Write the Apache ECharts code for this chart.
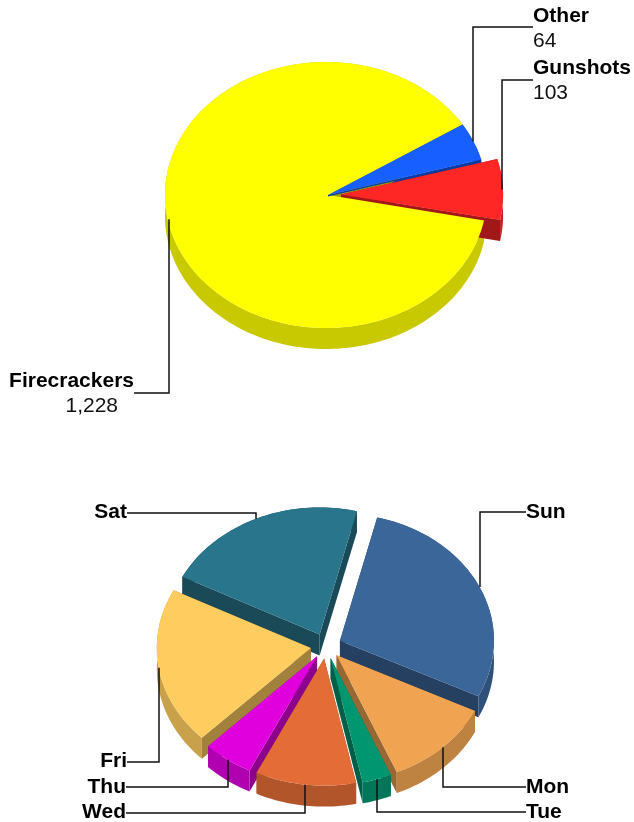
<!DOCTYPE html>
<html>
<head>
<meta charset="utf-8">
<style>html,body{margin:0;padding:0;background:#fff}#chart{width:634px;height:822px}</style>
<script src="https://cdn.jsdelivr.net/npm/echarts@6/dist/echarts.min.js"></script>
</head>
<body>
<div id="chart"></div>
<script>
// ---- data ----
const causeCategories = ['Other', 'Gunshots', 'Firecrackers'];
const causeValues = [64, 103, 1228];
const dayCategories = ['Sun', 'Mon', 'Tue', 'Wed', 'Thu', 'Fri', 'Sat'];
const dayValues = [102, 41, 11, 38, 19, 72, 77];

// ---- styles and layout ----
const causeColors = ['#1760FF', '#FF2626', '#FFFF00'];
const dayColors = ['#3B6699', '#F0A452', '#009670', '#E36C37', '#E000DE', '#FFCC5F', '#29758C'];
const causeExplode = [0, 0.1, 0];
const dayExplode = [0.1, 0.1, 0.1, 0.1, 0.1, 0.1, 0.1];
const FONT = '"Liberation Sans", Arial, sans-serif';

const causeLayout = {
  cx: 326, cy: 195, rx: 161, ry: 133, depth: 21, start: 32, lip: 1.5, showValue: true,
  apexShift: [2, -1, 2],
  labels: [
    { x: 533, y: 16, lineY: 27, align: 'left' },
    { x: 533, y: 68, lineY: 80, align: 'left', nudge: -1 },
    { x: 134, y: 381, lineY: 393, align: 'right', valueX: 118, nudge: 1 }
  ]
};
const dayLayout = {
  cx: 326, cy: 646, rx: 154, ry: 127, depth: 21, start: 76, lip: 0, showValue: false,
  apexShift: [0, 0, 0, 0, 0, 0, 0],
  labels: [
    { x: 526, y: 512, lineY: 512, align: 'left' },
    { x: 526, y: 787, lineY: 787, align: 'left' },
    { x: 526, y: 812, lineY: 812, align: 'left' },
    { x: 126, y: 812, lineY: 813, align: 'right' },
    { x: 126, y: 787, lineY: 787, align: 'right' },
    { x: 127, y: 761, lineY: 762, align: 'right' },
    { x: 127, y: 512, lineY: 513, align: 'right' }
  ]
};

function shade(hex, f) {
  const n = parseInt(hex.slice(1), 16);
  const c = [n >> 16 & 255, n >> 8 & 255, n & 255].map(v => Math.round(v * f));
  return 'rgb(' + c.join(',') + ')';
}

function makeSeries(cats, vals, colors, explode, L) {
  const total = vals.reduce((a, b) => a + b, 0);
  const rad = Math.PI / 180;
  let acc = L.start;
  const slices = vals.map((v, i) => {
    const sweep = v / total * 360;
    const a0 = acc, a1 = acc - sweep;
    acc = a1;
    const mid = (a0 + a1) / 2;
    const e = explode[i];
    return {
      a0, a1, mid, sweep, e,
      ax: L.cx + e * L.rx * Math.cos(mid * rad),
      ay: L.cy - e * L.ry * Math.sin(mid * rad)
    };
  });
  const idx = slices.map((s, i) => i);
  const wallOrder = idx.slice().sort((p, q) =>
    (slices[p].e - slices[q].e) || (Math.sin(slices[q].mid * rad) - Math.sin(slices[p].mid * rad)));
  const topOrder = idx.slice().sort((p, q) =>
    (slices[p].e - slices[q].e) || (Math.sin(slices[p].mid * rad) - Math.sin(slices[q].mid * rad)));

  return {
    type: 'custom',
    coordinateSystem: 'none',
    silent: true,
    animation: false,
    clip: false,
    data: vals.map((v, i) => ({ name: cats[i], value: [v] })),
    renderItem: function (params, api) {
      const i = params.dataIndex;
      const s = slices[i];
      const value = api.value(0);
      const color = colors[i];
      const pt = t => [s.ax + L.rx * Math.cos(t * rad), s.ay - L.ry * Math.sin(t * rad)];
      const arc = [];
      const steps = Math.max(4, Math.ceil(s.sweep / 1.5));
      for (let k = 0; k <= steps; k++) arc.push(pt(s.a0 + (s.a1 - s.a0) * k / steps));
      const down = (p, d) => [p[0], p[1] + d];
      const apex = [s.ax + L.apexShift[i], s.ay];
      const first = arc[0], last = arc[arc.length - 1];
      const wz = wallOrder.indexOf(i) * 3;
      const tz = 100 + topOrder.indexOf(i) * 2;
      const children = [];
      const poly = (points, fill, z2) => children.push({
        type: 'polygon', z2: z2, shape: { points: points }, style: { fill: fill }
      });
      const cutColor = shade(color, 0.63);
      const arcColor = shade(color, 0.79);
      const d = L.depth;
      // a cut face on the back half hides the outer wall; on the front half the outer wall hides it
      const cutZ = t => (Math.sin(t * rad) > 0 ? wz + 2 : wz);
      poly(arc.concat(arc.slice().reverse().map(p => down(p, d))), arcColor, wz + 1);
      poly([apex, first, down(first, d), down(apex, d)], cutColor, cutZ(s.a0));
      poly([apex, last, down(last, d), down(apex, d)], cutColor, cutZ(s.a1));
      if (L.lip) poly([apex, last, down(last, L.lip), down(apex, L.lip)], cutColor, tz - 1);
      poly([apex].concat(arc), color, tz);

      // leader line, anchored on the middle of the slice's outer arc
      const lab = L.labels[i];
      const anchor = pt(s.mid);
      const ex = Math.round(anchor[0] + (lab.nudge || 0));
      children.push({
        type: 'polyline', z2: 200,
        shape: { points: [[lab.x, lab.lineY], [ex, lab.lineY], [ex, anchor[1]]] },
        style: { stroke: '#111', lineWidth: 1.5, fill: 'none' }
      });
      children.push({
        type: 'text', z2: 201,
        style: {
          text: cats[i], x: lab.x, y: lab.y, align: lab.align, verticalAlign: 'middle',
          font: 'bold 21px ' + FONT, fill: '#000'
        }
      });
      if (L.showValue) {
        children.push({
          type: 'text', z2: 201,
          style: {
            text: value.toLocaleString('en-US'),
            x: lab.valueX !== undefined ? lab.valueX : lab.x, y: lab.y + 25,
            align: lab.align, verticalAlign: 'middle',
            font: '21px ' + FONT, fill: '#111'
          }
        });
      }
      return { type: 'group', children: children };
    }
  };
}

const chart = echarts.init(document.getElementById('chart'), null, { renderer: 'canvas' });
chart.setOption({
  animation: false,
  backgroundColor: '#fff',
  series: [
    makeSeries(causeCategories, causeValues, causeColors, causeExplode, causeLayout),
    makeSeries(dayCategories, dayValues, dayColors, dayExplode, dayLayout)
  ]
});
</script>
</body>
</html>
